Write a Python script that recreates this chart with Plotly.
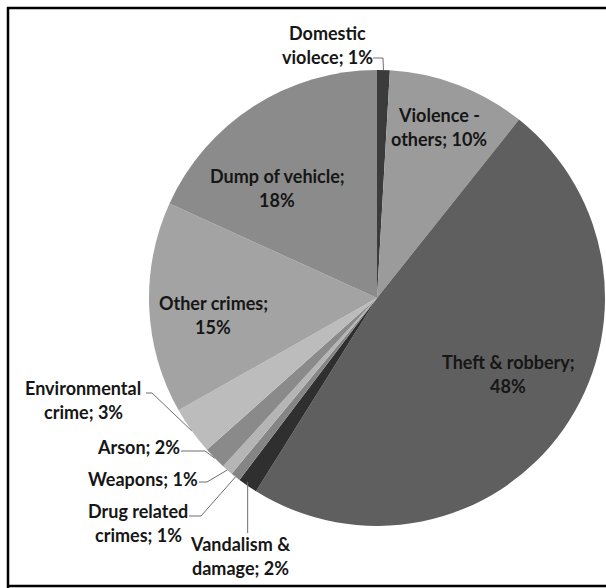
import math
import plotly.graph_objects as go

# ---- data ----
categories = ["Domestic violece", "Violence - others", "Theft & robbery", "Vandalism & damage",
              "Drug related crimes", "Weapons", "Arson", "Environmental crime",
              "Other crimes", "Dump of vehicle"]
values = [0.9, 9.8, 48.2, 1.4, 0.7, 0.8, 1.6, 3.4, 15.0, 18.2]
label_lines = [["Domestic", "violece; 1%"], ["Violence -", "others; 10%"],
               ["Theft & robbery;", "48%"], ["Vandalism &", "damage; 2%"],
               ["Drug related", "crimes; 1%"], ["Weapons; 1%"], ["Arson; 2%"],
               ["Environmental", "crime; 3%"], ["Other crimes;", "15%"],
               ["Dump of vehicle;", "18%"]]
colors = ["#3b3b3b", "#9b9b9b", "#5f5f5f", "#2f2f2f", "#858585", "#b5b5b5",
          "#8a8a8a", "#bcbcbc", "#a3a3a3", "#8b8b8b"]

# ---- layout constants (page pixels) ----
W, H = 606, 588
CX, CY, R = 377, 298, 228
LINE_GAP = 24
label_pos = [(327, 45), (439, 127), (508, 374), (240, 556), (138, 523),
             (143, 479), (138, 447), (83, 400), (213, 315), (277, 188)]
leader = {0: [(373, 58), (383, 58)],
          7: [(146, 393), (152, 393)],
          6: [(181, 451), (205, 451)],
          5: [(199, 482), (207, 482)],
          4: [(189, 516), (201, 516)]}


def px(x):
    return x / W


def py(y):
    return 1 - y / H


fig = go.Figure(go.Pie(
    values=values, labels=categories, sort=False, direction="clockwise", rotation=0,
    marker=dict(colors=colors, line=dict(width=0)), textinfo="none",
    hoverinfo="label+percent", showlegend=False,
    domain=dict(x=[px(CX - R), px(CX + R)], y=[py(CY + R), py(CY - R)]),
))

total = sum(values)
cum = 0
mid_pts = []
for v in values:
    mid = (cum + v / 2) / total * 2 * math.pi
    cum += v
    mid_pts.append((CX + R * math.sin(mid), CY - R * math.cos(mid)))

annotations = []
for (bx, by), lines in zip(label_pos, label_lines):
    n = len(lines)
    for k, t in enumerate(lines):
        yy = by + (k - (n - 1) / 2) * LINE_GAP
        annotations.append(dict(x=px(bx), y=py(yy), xref="paper", yref="paper",
                                text=t, showarrow=False, xanchor="center", yanchor="middle",
                                font=dict(family="Lato", size=18, color="#161616", weight="bold")))

shapes = []
for i, pts in leader.items():
    ex, ey = mid_pts[i]
    path = "M {} {}".format(px(pts[0][0]), py(pts[0][1]))
    for (x, y) in pts[1:]:
        path += " L {} {}".format(px(x), py(y))
    path += " L {} {}".format(px(ex), py(ey))
    shapes.append(dict(type="path", path=path, xref="paper", yref="paper",
                       line=dict(color="#6e6e6e", width=1)))
vx, vy = mid_pts[3]
shapes.append(dict(type="line", xref="paper", yref="paper", x0=px(vx), y0=py(vy - 4),
                   x1=px(vx), y1=py(533), line=dict(color="#6e6e6e", width=1)))

# frame (top, left, bottom edges)
for (x0, y0, x1, y1) in [(7, 8, 608, 8), (8, 7, 8, 590), (7, 586, 608, 586)]:
    shapes.append(dict(type="line", xref="paper", yref="paper", x0=px(x0), y0=py(y0),
                       x1=px(x1), y1=py(y1), line=dict(color="black", width=2.5)))

fig.update_layout(width=W, height=H, margin=dict(l=0, r=0, t=0, b=0),
                  paper_bgcolor="white", plot_bgcolor="white",
                  annotations=annotations, shapes=shapes)

fig.write_html("out.html", config={"displayModeBar": False},
               post_script="document.body.style.margin='0';document.body.style.overflow='hidden';")
